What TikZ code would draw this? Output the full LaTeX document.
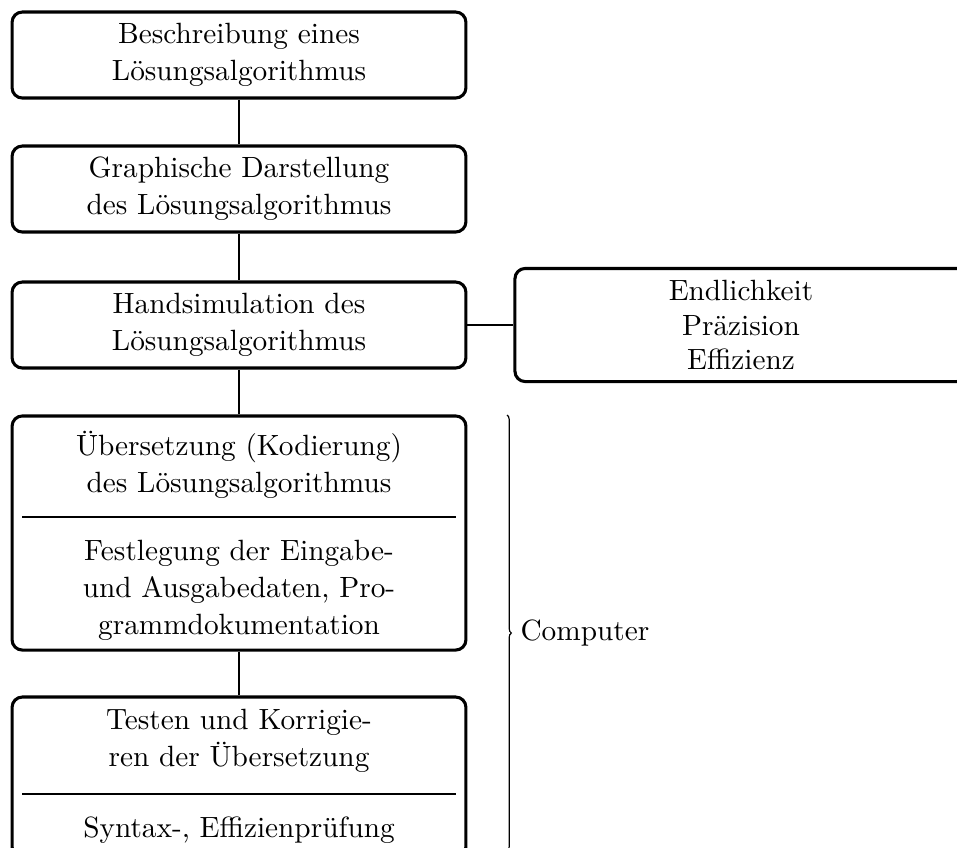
\documentclass[tikz,border=0pt]{standalone}
\usepackage{fontspec}
\usetikzlibrary{decorations.pathreplacing}
\begin{document}
\begin{tikzpicture}[x=0.3413pt,y=-0.3413pt,
  every node/.style={font=\fontsize{10}{12.6}\selectfont},
  box/.style={draw, line width=1.05pt, rounded corners=3.5pt, align=center, inner sep=0pt},
  stepbox/.style={box, minimum width=154.9pt, minimum height=29.35pt},
  txt/.style={align=center, inner sep=0pt},
  link/.style={line width=0.6pt},
  sep/.style={line width=0.7pt}]
\path[use as bounding box] (0,0) rectangle (957,847);
\clip (0,0) rectangle (957,847);
\node[stepbox] (b1) at (239,55) {Beschreibung eines\\Lösungsalgorithmus};
\node[stepbox] (b2) at (239,189) {Graphische Darstellung\\des Lösungsalgorithmus};
\node[stepbox] (b3) at (239,325) {Handsimulation des\\Lösungsalgorithmus};
\node[box, minimum width=154.3pt, minimum height=38.6pt, font=\fontsize{10}{11.8}\selectfont] (r) at (741,325) {Endlichkeit\\Präzision\\Effizienz};
\node[box, minimum width=154.9pt, minimum height=79.9pt] (b4) at (239,533) {};
\node[txt] (b4a) at (239,465) {Übersetzung (Kodierung)\\des Lösungsalgorithmus};
\node[txt] (b4b) at (239,590) {Festlegung der Eingabe-\\und Ausgabedaten, Pro-\\grammdokumentation};
\node[box, minimum width=154.9pt, minimum height=54.6pt] (b5) at (239,777) {};
\node[txt] (b5a) at (239,741) {Testen und Korrigie-\\ren der Übersetzung};
\node[txt] (b5b) at (239,830) {Syntax-, Effizienprüfung};
\coordinate (s4l) at (22,517);
\coordinate (s4r) at (456,517);
\coordinate (s5l) at (22,794);
\coordinate (s5r) at (456,794);
\draw[sep] (s4l) -- (s4r);
\draw[sep] (s5l) -- (s5r);
\draw[link] (b1.south) -- (b2.north);
\draw[link] (b2.south) -- (b3.north);
\draw[link] (b3.south) -- (b4.north);
\draw[link] (b4.south) -- (b5.north);
\draw[link] (b3.east) -- (r.west);
\coordinate (bt) at (507,415);
\coordinate (bb) at (507,851);
\draw[line width=0.4pt, decorate, decoration={brace, amplitude=1.5pt}] (bt) -- (bb);
\node[anchor=west, inner sep=0pt] (comp) at (520,633) {Computer};
\end{tikzpicture}
\end{document}
